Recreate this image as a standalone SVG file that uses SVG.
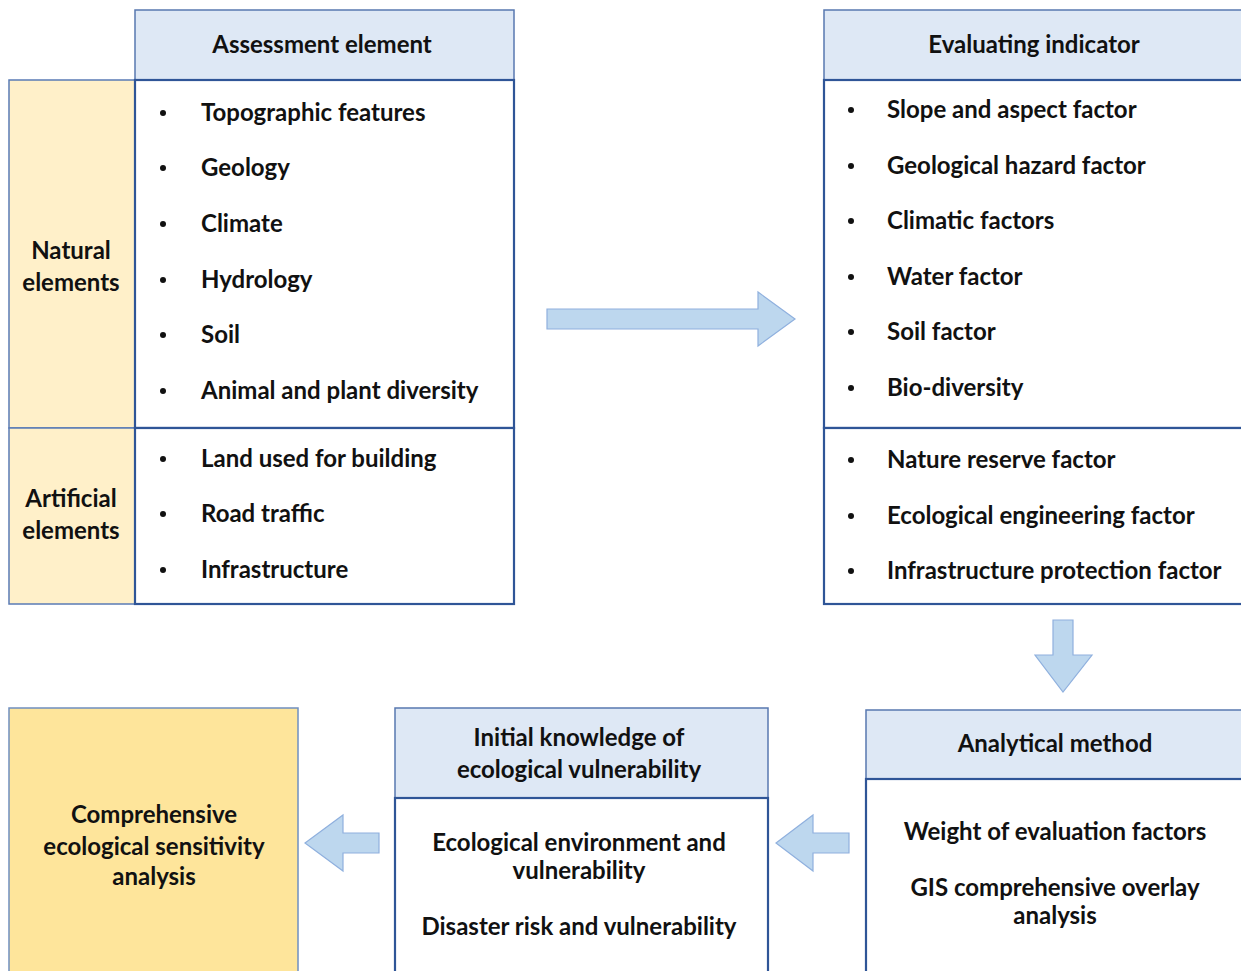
<svg xmlns="http://www.w3.org/2000/svg" width="1241" height="971" viewBox="0 0 1241 971">
<style>
.t{font-family:Lato,"Open Sans","Liberation Sans",sans-serif;font-weight:bold;font-size:24px;fill:#111}
.c{text-anchor:middle}
.hd{fill:#dee8f5;stroke:#5878b0;stroke-width:1.5}
.bd{fill:#fff;stroke:#2f5597;stroke-width:2.2}
.yl{fill:#fff0c9;stroke:#5a7bb5;stroke-width:1.5}
.ar{fill:#bdd7ee;stroke:#8fb0de;stroke-width:1.2}
.b{fill:#111}
</style>
<rect width="1241" height="971" fill="#fff"/>
<g id="assessment">
<rect class="hd" x="135" y="10" width="379" height="70"/>
<text class="t c" x="322" y="53">Assessment element</text>
<rect class="yl" x="9" y="80" width="126" height="348"/>
<rect class="yl" x="9" y="428" width="126" height="176"/>
<rect class="bd" x="135" y="80" width="379" height="348"/>
<rect class="bd" x="135" y="428" width="379" height="176"/>
<text class="t c" x="71" y="259">Natural</text>
<text class="t c" x="71" y="291">elements</text>
<text class="t c" x="71" y="507">Artificial</text>
<text class="t c" x="71" y="539">elements</text>
<g class="b">
<circle cx="163" cy="113" r="3"/><circle cx="163" cy="168" r="3"/><circle cx="163" cy="224" r="3"/><circle cx="163" cy="280" r="3"/><circle cx="163" cy="335" r="3"/><circle cx="163" cy="391" r="3"/>
<circle cx="163" cy="459" r="3"/><circle cx="163" cy="514" r="3"/><circle cx="163" cy="570" r="3"/>
</g>
<text class="t" x="201" y="121">Topographic features</text>
<text class="t" x="201" y="176">Geology</text>
<text class="t" x="201" y="232">Climate</text>
<text class="t" x="201" y="288">Hydrology</text>
<text class="t" x="201" y="343">Soil</text>
<text class="t" x="201" y="399">Animal and plant diversity</text>
<text class="t" x="201" y="467">Land used for building</text>
<text class="t" x="201" y="522">Road traffic</text>
<text class="t" x="201" y="578">Infrastructure</text>
</g>
<g id="indicator">
<rect class="hd" x="824" y="10" width="430" height="70"/>
<text class="t c" x="1034" y="53">Evaluating indicator</text>
<rect class="bd" x="824" y="80" width="430" height="348"/>
<rect class="bd" x="824" y="428" width="430" height="176"/>
<g class="b">
<circle cx="851" cy="110" r="3"/><circle cx="851" cy="166" r="3"/><circle cx="851" cy="221" r="3"/><circle cx="851" cy="277" r="3"/><circle cx="851" cy="332" r="3"/><circle cx="851" cy="388" r="3"/>
<circle cx="851" cy="460" r="3"/><circle cx="851" cy="516" r="3"/><circle cx="851" cy="571" r="3"/>
</g>
<text class="t" x="887" y="118">Slope and aspect factor</text>
<text class="t" x="887" y="174">Geological hazard factor</text>
<text class="t" x="887" y="229">Climatic factors</text>
<text class="t" x="887" y="285">Water factor</text>
<text class="t" x="887" y="340">Soil factor</text>
<text class="t" x="887" y="396">Bio-diversity</text>
<text class="t" x="887" y="468">Nature reserve factor</text>
<text class="t" x="887" y="524">Ecological engineering factor</text>
<text class="t" x="887" y="579">Infrastructure protection factor</text>
</g>
<g id="method">
<rect class="hd" x="866" y="710" width="390" height="69"/>
<text class="t c" x="1055" y="752">Analytical method</text>
<rect class="bd" x="866" y="779" width="390" height="200"/>
<text class="t c" x="1055" y="840">Weight of evaluation factors</text>
<text class="t c" x="1055" y="896">GIS comprehensive overlay</text>
<text class="t c" x="1055" y="924">analysis</text>
</g>
<g id="knowledge">
<rect class="hd" x="395" y="708" width="373" height="90"/>
<text class="t c" x="579" y="746">Initial knowledge of</text>
<text class="t c" x="579" y="778">ecological vulnerability</text>
<rect class="bd" x="395" y="798" width="373" height="181"/>
<text class="t c" x="579" y="851">Ecological environment and</text>
<text class="t c" x="579" y="879">vulnerability</text>
<text class="t c" x="579" y="935">Disaster risk and vulnerability</text>
</g>
<g id="comprehensive">
<rect x="9" y="708" width="289" height="271" fill="#fee59b" stroke="#6f8fc0" stroke-width="1.5"/>
<text class="t c" x="154" y="823">Comprehensive</text>
<text class="t c" x="154" y="855">ecological sensitivity</text>
<text class="t c" x="154" y="885">analysis</text>
</g>
<g id="connectors">
<polygon class="ar" points="547,309 758,309 758,292 795,319 758,346 758,329 547,329"/>
<polygon class="ar" points="1053,620 1073,620 1073,655 1092,655 1063,692 1035,655 1053,655"/>
<polygon class="ar" points="849,833 813,833 813,815 776,843 813,871 813,853 849,853"/>
<polygon class="ar" points="379,833 343,833 343,815 305,843 343,871 343,853 379,853"/>
</g>
</svg>
